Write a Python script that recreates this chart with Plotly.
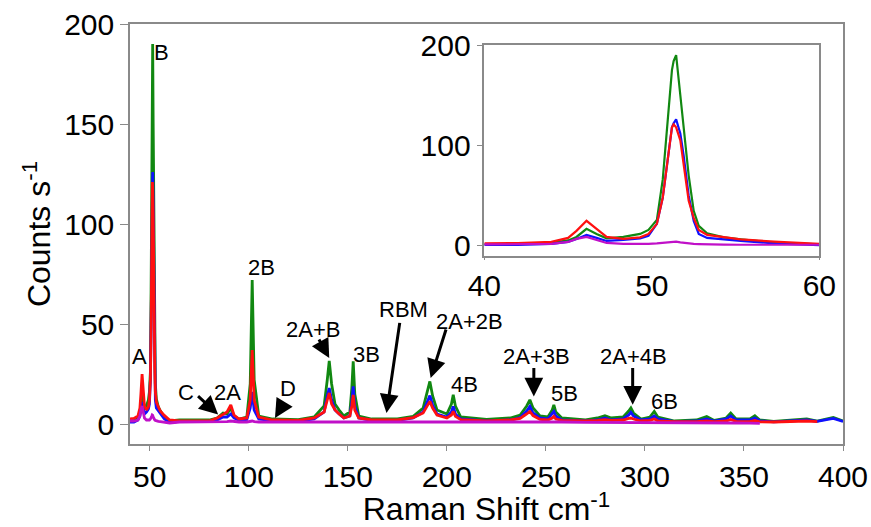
import plotly.graph_objects as go

# ---------------- data ----------------
shift = [
    40, 42, 44, 45, 45.5, 46.1, 46.7, 47.3, 48.3, 49.3,
    49.8, 50.3, 50.65, 51.0, 51.2, 51.3, 51.45, 51.7, 51.9, 52.2,
    52.5, 52.8, 53.3, 54.3, 55.3, 57.3, 60,
    65, 80, 84, 87, 89, 90.9, 92.5, 95, 99, 100.7,
    101.7, 102.7, 105, 112, 125, 133, 138, 139.6, 140.6, 141.8,
    143.5, 145.6, 148, 151, 152.0, 152.7, 153.5, 155.5, 162, 175,
    183, 188, 190.4, 191.4, 192.8, 195, 200, 202.3, 203.2, 204.3,
    207, 220, 232, 237, 240.3, 241.9, 243.5, 247, 251, 253.2,
    254, 255, 258, 270, 276, 279.8, 283, 289, 291.8, 292.9,
    294.2, 298, 302.5, 304.7, 306.5, 315, 326, 331.2, 335, 341,
    343.3, 346, 353, 355.5, 358, 365, 381.7, 387, 395.1, 400,
]

green = [
    1.7, 1.8, 3, 5.5, 9, 17, 12, 7.6, 9, 12,
    16, 26, 66, 140, 175, 184, 190, 150, 120, 70,
    35, 20, 12.6, 8.5, 6.6, 3.3, 1.6,
    2.0, 2.0, 3, 5.5, 5, 8, 4, 2.5, 3.5, 20,
    72, 22, 4, 2.5, 2.2, 3.5, 9, 22, 31.6, 20,
    10, 7, 4, 6, 18, 31.3, 15, 4, 2.5, 2.5,
    3.8, 8, 17, 21.3, 14, 7, 5, 10, 14.6, 9,
    3.5, 2.3, 3, 4.5, 9, 12.1, 8, 4, 3.5, 7,
    9.6, 6, 3, 2, 3, 4.1, 3, 3.5, 6.5, 8,
    5.5, 2.5, 3.5, 6.3, 3.5, 1.5, 2, 3.8, 1.8, 3,
    5.5, 2.5, 2.5, 4.1, 2, 1.3, 2.6, 1.5, 3.3, 1.5,
]

blue = [
    1, 1, 2, 4, 7, 11, 8, 5, 6, 7.5,
    10, 22, 48, 95, 118, 122, 126, 112, 90, 50,
    25, 12, 8, 6.6, 5, 2.6, 0.7,
    1.3, 1.3, 2, 3.5, 3.5, 5, 3, 1.8, 2.3, 8,
    16, 7, 2.5, 1.6, 1.5, 2.5, 6, 14, 18, 12,
    7, 5, 3, 4, 11, 18.8, 9, 3, 1.8, 1.8,
    3, 6, 12, 14.2, 9.5, 5, 3.5, 6, 8.8, 5,
    2.5, 1.6, 2, 3.2, 6.5, 8.8, 5.5, 3, 2.5, 5,
    6.3, 4, 2, 1.5, 2, 3, 2, 2.5, 4.5, 5.8,
    4, 2, 2.5, 4, 2.5, 1.2, 1.5, 2.5, 1.4, 2.5,
    4, 2, 2, 3, 1.6, 1.1, 2, 1.3, 2.8, 1.3,
]

red = [
    2.6, 2.8, 4, 8, 15, 25, 17, 9, 7, 8.6,
    12, 22, 48, 95, 118, 121, 118, 105, 80, 45,
    28, 16, 11, 8.6, 6.5, 4.3, 2,
    1.5, 1.5, 3, 5, 6, 9.6, 4.5, 2.5, 3, 12,
    37, 12, 3.5, 2, 1.8, 3, 6, 12, 15.5, 10,
    7, 5, 3, 4, 9, 14.6, 7, 3, 2, 2,
    3.2, 5.5, 10, 11.3, 8, 4.5, 3, 4.5, 6.3, 3.8,
    2.2, 1.6, 2, 2.8, 5, 6.3, 4.2, 2.3, 2, 3,
    3.8, 2.5, 1.8, 1.5, 1.8, 2.2, 1.8, 2, 2.8, 3,
    2.5, 1.5, 1.8, 2.5, 1.6, 1.2, 1.2, 1.6, 1.2, 1.5,
    2.3, 1.3, 1.2, 1.8, 1.1, 1.0, 1.5, 1.2, None, None,
]

magenta = [
    1.5, 1.5, 2, 4, 7, 9, 6, 3, 2, 1.8,
    2, 2.5, 3, 4, 4.5, 4.5, 4.3, 3.5, 3, 2.5,
    2, 1.8, 1.5, 1.3, 1.2, 0.8, 0.5,
    1, 1, 1, 1.2, 1.2, 1.5, 1.2, 1, 1, 1.2,
    1.5, 1.2, 1, 1, 1, 1, 1.1, 1.2, 1.3, 1.2,
    1.1, 1.1, 1, 1, 1, 1.1, 1, 1, 1, 1,
    1, 1, 1.1, 1.1, 1, 1, 1, 1, 1, 1,
    1, 1, 1, 1, 1, 1, 1, 1, 1, 1,
    1, 1, 1, 0.8, 0.8, 0.8, 0.8, 0.8, 0.8, 0.8,
    0.8, 0.8, 0.6, 0.6, 0.6, 0.5, 0.5, 0.5, 0.5, 0.5,
    0.5, 0.5, 0.4, 0.4, 0.3, None, None, None, None, None,
]

assert len(shift) == len(green) == len(blue) == len(red) == len(magenta)

# peak labels: text, x, y
label_text = ["A", "B", "C", "2A", "D", "2B", "2A+B", "3B", "RBM", "2A+2B",
              "4B", "2A+3B", "5B", "2A+4B", "6B"]
label_x = [44.6, 55.8, 68.5, 89.4, 119.7, 106.4, 132.2, 159.4, 177.9, 211.3,
           209.1, 245.3, 259.6, 294.1, 310.1]
label_y = [33.8, 186, 15.8, 15.6, 17.7, 78.2, 47.2, 34.7, 57.5, 51.3,
           19.7, 33.8, 15.5, 33.8, 11.3]

# arrows: tail (x, y) -> head (x, y)
arrow_tail_x = [73.6, 118.2, 135.0, 176.3, 199.8, 243.9, 293.8]
arrow_tail_y = [14.6, 11.3, 43.0, 51.3, 48.0, 28.8, 28.8]
arrow_head_x = [84.5, 113.2, 140.6, 169.5, 191.8, 243.9, 293.8]
arrow_head_y = [4.7, 3.0, 33.0, 5.5, 23.0, 13.8, 9.6]

series = [("green", green, "#118811"), ("blue", blue, "#1010ff"),
          ("red", red, "#ff1010"), ("magenta", magenta, "#c010c8")]

FONT = "Arial, Liberation Sans, sans-serif"
AXCOL = "#8a8a8a"

fig = go.Figure()
for name, ys, col in series:
    fig.add_trace(go.Scatter(x=shift, y=ys, mode="lines", name=name,
                             line=dict(color=col, width=2.8),
                             xaxis="x", yaxis="y", showlegend=False))
for name, ys, col in series:
    fig.add_trace(go.Scatter(x=shift, y=ys, mode="lines", name=name,
                             line=dict(color=col, width=2.2),
                             xaxis="x2", yaxis="y2", showlegend=False))

annotations = []
for t, x, y in zip(label_text, label_x, label_y):
    annotations.append(dict(x=x, y=y, xref="x", yref="y", text=t, showarrow=False,
                            font=dict(family=FONT, size=22, color="black")))
for tx, ty, hx, hy in zip(arrow_tail_x, arrow_tail_y, arrow_head_x, arrow_head_y):
    annotations.append(dict(x=hx, y=hy, ax=tx, ay=ty, xref="x", yref="y",
                            axref="x", ayref="y", text="", showarrow=True,
                            arrowhead=2, arrowsize=1.25, arrowwidth=3,
                            arrowcolor="black"))

common = dict(showline=True, linecolor=AXCOL, linewidth=1.5, mirror=True,
              ticks="outside", tickcolor=AXCOL, showgrid=False,
              zeroline=False, tickfont=dict(size=30), automargin=False)

fig.update_layout(
    width=871, height=527,
    margin=dict(l=130, r=28, t=24, b=83),
    paper_bgcolor="white", plot_bgcolor="white",
    font=dict(family=FONT, color="black"),
    xaxis=dict(range=[40, 400], tickvals=[50, 100, 150, 200, 250, 300, 350, 400],
               ticklen=5, **common,
               title=dict(text="Raman Shift cm<sup>-1</sup>", font=dict(size=32),
                          standoff=12)),
    yaxis=dict(range=[-10, 200], tickvals=[0, 50, 100, 150, 200],
               ticklen=8, **common,
               title=dict(text="Counts s<sup>-1</sup>", font=dict(size=32),
                          standoff=4)),
    xaxis2=dict(domain=[0.497, 0.9668], anchor="y2", range=[40, 60],
                tickvals=[40, 50, 60], ticklen=2, **common),
    yaxis2=dict(domain=[0.4476, 0.95], anchor="x2", range=[-10, 200],
                tickvals=[0, 100, 200], ticklen=6, **common),
    annotations=annotations,
)

fig.write_html("out.html")
